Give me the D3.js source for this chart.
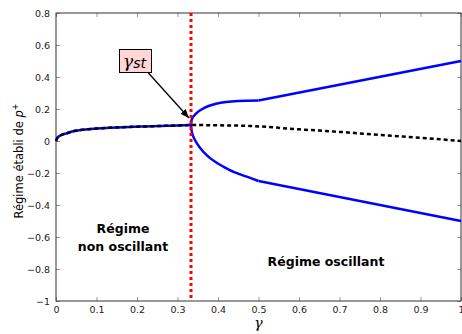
<!DOCTYPE html>
<html>
<head>
<meta charset="utf-8">
<script src="https://cdn.jsdelivr.net/npm/d3@7"></script>
<style>
  body { margin: 0; background: #fff; }
  svg { display: block; font-family: "DejaVu Sans", sans-serif; }
</style>
</head>
<body>
<svg id="chart"></svg>
<script>
// branche stable (avant bifurcation) puis branche instable
var gammaStable = [0, 0.004, 0.012, 0.026, 0.045, 0.067, 0.1, 0.133, 0.18, 0.22, 0.257, 0.3, 0.333]
var pStable     = [0, 0.022, 0.036, 0.048, 0.062, 0.071, 0.078, 0.083, 0.088, 0.091, 0.094, 0.097, 0.1]

var gammaUnstable = [0.333, 0.4, 0.48, 0.6, 0.7, 0.8, 0.9, 1]
var pUnstable     = [0.1, 0.098, 0.094, 0.073, 0.057, 0.038, 0.02, 0]

// branches oscillantes (partie courbe jusqu'à 0.5, puis droite jusqu'à 1)
var gammaUp = [0.333, 0.336, 0.345, 0.358, 0.375, 0.395, 0.42, 0.45, 0.5, 1]
var pUp     = [0.1, 0.14, 0.17, 0.195, 0.217, 0.233, 0.244, 0.25, 0.253, 0.5]

var gammaLow = [0.333, 0.336, 0.343, 0.355, 0.372, 0.393, 0.413, 0.44, 0.471, 0.5, 1]
var pLow     = [0.1, 0.05, 0.006, -0.04, -0.088, -0.13, -0.16, -0.195, -0.223, -0.25, -0.5]

var gammaSt = 1 / 3

var xTicks = [0, 0.1, 0.2, 0.3, 0.4, 0.5, 0.6, 0.7, 0.8, 0.9, 1]
var yTicks = [-1, -0.8, -0.6, -0.4, -0.2, 0, 0.2, 0.4, 0.6, 0.8]

var W = 462, H = 334
// attention : "top" est réservé (window.top)
var mLeft = 56, mRight = 461, mTop = 13, mBottom = 301

var svg = d3.select("#chart").attr("width", W).attr("height", H)

var x = d3.scaleLinear().domain([0, 1]).range([mLeft, mRight])
var y = d3.scaleLinear().domain([-1, 0.8]).range([mBottom, mTop])

function pts(gs, ps) {
  return gs.map(function(g, i) { return [g, ps[i]] })
}

var line = d3.line()
  .x(function(d) { return x(d[0]) })
  .y(function(d) { return y(d[1]) })
  .curve(d3.curveMonotoneX)

var lineCourbe = d3.line()
  .x(function(d) { return x(d[0]) })
  .y(function(d) { return y(d[1]) })
  .curve(d3.curveCatmullRom.alpha(0.5))

var lineDroite = d3.line()
  .x(function(d) { return x(d[0]) })
  .y(function(d) { return y(d[1]) })

// axes : ticks vers l'intérieur, sur les 4 côtés
var fmt = d3.format("")
var gx = svg.append("g").attr("transform", "translate(0," + mBottom + ")")
  .call(d3.axisBottom(x).tickValues(xTicks).tickFormat(fmt).tickSizeInner(-4).tickSizeOuter(0).tickPadding(5))
var gxt = svg.append("g").attr("transform", "translate(0," + mTop + ")")
  .call(d3.axisTop(x).tickValues(xTicks).tickFormat("").tickSizeInner(-4).tickSizeOuter(0))
var gy = svg.append("g").attr("transform", "translate(" + mLeft + ",0)")
  .call(d3.axisLeft(y).tickValues(yTicks).tickFormat(fmt).tickSizeInner(-4).tickSizeOuter(0).tickPadding(6))
var gyr = svg.append("g").attr("transform", "translate(" + mRight + ",0)")
  .call(d3.axisRight(y).tickValues(yTicks).tickFormat("").tickSizeInner(-4).tickSizeOuter(0))

;[gx, gxt, gy, gyr].forEach(function(g) {
  g.select(".domain").remove()
  g.selectAll(".tick line").attr("stroke", "#999")
  g.selectAll(".tick text").attr("fill", "#222").style("font-size", "9.5px").style("font-family", "DejaVu Sans, sans-serif")
})

// cadre
svg.append("rect")
  .attr("x", mLeft).attr("y", mTop)
  .attr("width", mRight - mLeft).attr("height", mBottom - mTop)
  .attr("fill", "none").attr("stroke", "#333").attr("stroke-width", 1)

// courbes bleues
function branche(gs, ps) {
  var p = pts(gs, ps)
  svg.append("path").attr("d", lineCourbe(p.slice(0, -1)))
    .attr("fill", "none").attr("stroke", "#0000ff").attr("stroke-width", 2.5)
  svg.append("path").attr("d", lineDroite(p.slice(-2)))
    .attr("fill", "none").attr("stroke", "#0000ff").attr("stroke-width", 2.5)
}
svg.append("path").attr("d", line(pts(gammaStable, pStable)))
  .attr("fill", "none").attr("stroke", "#0000ff").attr("stroke-width", 2.5)
branche(gammaUp, pUp)
branche(gammaLow, pLow)

// pointillés noirs
svg.append("path").attr("d", line(pts(gammaStable, pStable).concat(pts(gammaUnstable, pUnstable).slice(1))))
  .attr("fill", "none").attr("stroke", "#000").attr("stroke-width", 2.5)
  .attr("stroke-dasharray", "4,3")

// ligne rouge gamma_st
svg.append("line")
  .attr("x1", x(gammaSt)).attr("x2", x(gammaSt))
  .attr("y1", mTop).attr("y2", mBottom)
  .attr("stroke", "#ff0000").attr("stroke-width", 3)
  .attr("stroke-dasharray", "3,3")

// annotation avec flèche
svg.append("defs").append("marker")
  .attr("id", "fleche").attr("viewBox", "0 0 10 10")
  .attr("refX", 10).attr("refY", 5)
  .attr("markerWidth", 9).attr("markerHeight", 9)
  .attr("markerUnits", "userSpaceOnUse")
  .attr("orient", "auto")
  .append("path").attr("d", "M0,1 L10,5 L0,9 Z").attr("fill", "#000")

svg.append("line")
  .attr("x1", 148).attr("y1", 72.5)
  .attr("x2", x(gammaSt) - 2).attr("y2", y(0.1) - 7)
  .attr("stroke", "#000").attr("stroke-width", 1.3)
  .attr("marker-end", "url(#fleche)")

svg.append("rect")
  .attr("x", 119.5).attr("y", 49.5).attr("width", 32).attr("height", 23)
  .attr("fill", "#ffd6d6").attr("stroke", "#000").attr("stroke-width", 1)

var lab = svg.append("text").attr("x", 123).attr("y", 67)
lab.append("tspan").text("γ")
  .style("font-family", "DejaVu Serif, serif").style("font-style", "italic").style("font-size", "17px")
lab.append("tspan").text("st").attr("dx", 0).attr("dy", 1)
  .style("font-family", "DejaVu Sans, sans-serif").style("font-style", "italic").style("font-size", "14px")

// régions
svg.append("text").attr("x", 123).attr("y", 233).attr("text-anchor", "middle")
  .style("font-weight", "bold").style("font-size", "12.5px").text("Régime")
svg.append("text").attr("x", 123).attr("y", 251).attr("text-anchor", "middle")
  .style("font-weight", "bold").style("font-size", "12.5px").text("non oscillant")
svg.append("text").attr("x", 326).attr("y", 266).attr("text-anchor", "middle")
  .style("font-weight", "bold").style("font-size", "12.5px").text("Régime oscillant")

// titres des axes
svg.append("text").attr("x", x(0.5)).attr("y", 328).attr("text-anchor", "middle")
  .style("font-family", "DejaVu Serif, serif").style("font-style", "italic").style("font-size", "14px")
  .text("γ")

var yl = svg.append("text")
  .attr("transform", "translate(23," + ((mTop + mBottom) / 2 + 4) + ") rotate(-90)")
  .attr("text-anchor", "middle").style("font-size", "11.5px")
yl.append("tspan").text("Régime établi de ")
yl.append("tspan").text("p").style("font-style", "italic")
yl.append("tspan").text("+").attr("dy", -5).style("font-size", "8px")
</script>
</body>
</html>
